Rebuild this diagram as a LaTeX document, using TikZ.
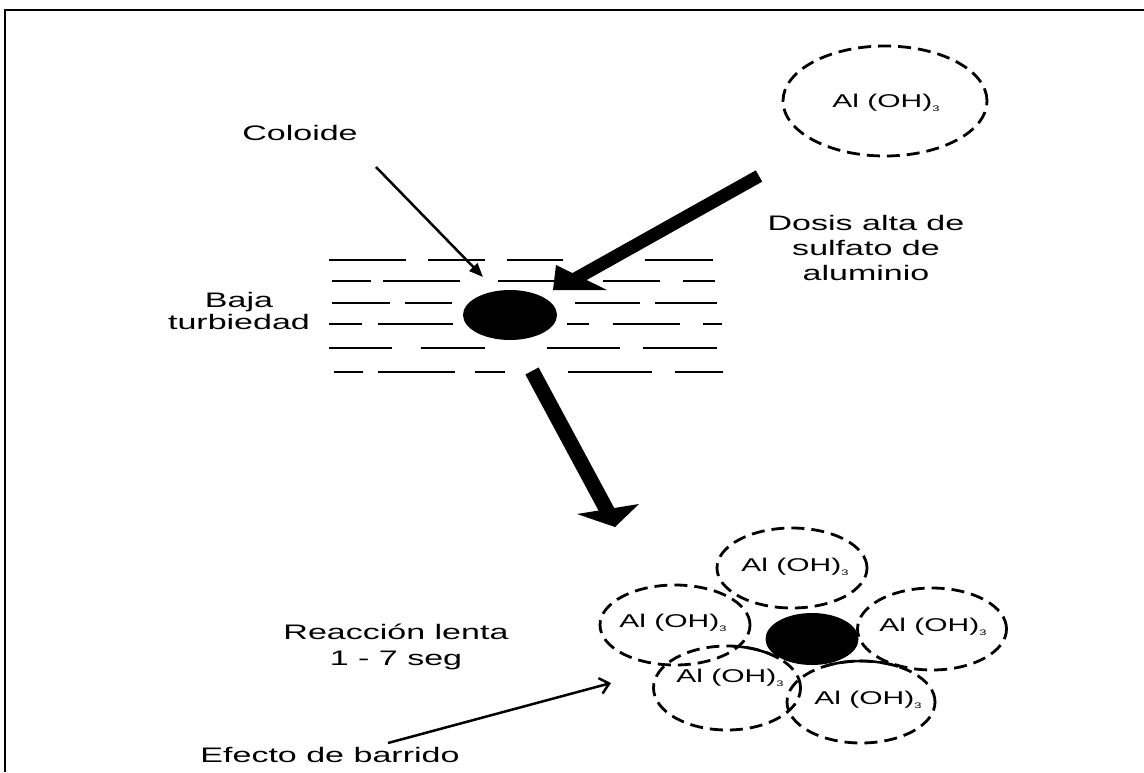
\documentclass[tikz,border=0pt]{standalone}
\usepackage{fontspec}
\setmainfont{Liberation Sans}
\usepackage{graphicx}
\usetikzlibrary{shapes.geometric,arrows.meta}
\newcommand\sx[1]{\scalebox{1.62}[1]{#1}}
\newcommand\alh{\sx{Al (OH)\raisebox{-0.45ex}{\fontsize{8}{8}\selectfont 3}}}
\begin{document}
\begin{tikzpicture}[x=1pt,y=-1pt,
  lbl/.style={inner sep=0pt, font=\fontsize{21}{25}\selectfont},
  alt/.style={inner sep=0pt, font=\fontsize{18.5}{20}\selectfont},
  cloud/.style={ellipse, draw, line width=2.8pt, dash pattern=on 13pt off 7pt, inner sep=0pt},
  ball/.style={ellipse, fill=black, inner sep=0pt},
  wline/.style={line width=2.6pt},
  thinarrow/.style={line width=2.5pt},
  solidarc/.style={line width=2.6pt}]
\useasboundingbox (0,0) rectangle (1144,772);
\fill[white] (0,0) rectangle (1144,772);
% frame
\draw[line width=2.5pt] (5,772) -- (5,10) -- (1144,10);

% water lines
\foreach \y/\segs in {260/{329/406,428/485,507/563,645/713},
                      281/{332/371,383/460,498/557,603/660,683/715},
                      303/{332/390,405/452,575/640,655/717},
                      324/{329/362,378/453,567/589,613/680,703/722},
                      348/{329/392,421/485,547/620,643/717},
                      372/{334/363,378/455,475/505,568/652,675/723}}{
  \foreach \a/\b in \segs { \draw[wline] (\a,\y) -- (\b,\y); }
}

% top colloid
\node[ball, minimum width=94pt, minimum height=50pt] (col) at (510,315) {};

% top-right Al(OH)3
\node[cloud, minimum width=204pt, minimum height=110pt] (alA) at (885,101) {};
\node[alt] (alAt) at (886,103) {\alh};

% labels
\node[lbl, anchor=base] (coloide) at (300,140) {\sx{Coloide}};
\node[lbl] (dosis) at (866,250) {\sx{\begin{tabular}{@{}c@{}}Dosis alta de\\sulfato de\\aluminio\end{tabular}}};
\node[lbl, font=\fontsize{21}{22.5}\selectfont] (baja) at (239,314) {\sx{\begin{tabular}{@{}c@{}}Baja\\turbiedad\end{tabular}}};
\node[lbl, font=\fontsize{21}{26}\selectfont] (reac) at (396,647) {\sx{\begin{tabular}{@{}c@{}}Reacci\'on lenta\\1 - 7 seg\end{tabular}}};
\node[lbl, anchor=base] (efecto) at (330,762) {\sx{Efecto de barrido}};

% Coloide arrow
\coordinate (cA) at (376,167);
\coordinate (cB) at (483,277);
\draw[thinarrow, -{Triangle[length=14pt,width=11pt]}] (cA) -- (cB);

% thick arrow from dose
\coordinate (dA) at (759,176);
\coordinate (dB) at (568,283);
\draw[line width=13pt] (dA) -- (dB);
\fill (553,290) -- (556,265) -- (607,290) -- cycle;

% thick arrow down
\coordinate (eA) at (532,371);
\coordinate (eB) at (610,516);
\draw[line width=15pt] (eA) -- (eB);
\fill (577,514) -- (639,504) -- (615,527) -- cycle;

% cluster
\node[cloud, minimum width=150pt, minimum height=80pt] (c1) at (792,568) {};
\node[cloud, minimum width=150pt, minimum height=80pt] (c2) at (675,625) {};
\node[cloud, minimum width=149pt, minimum height=82pt] (c3) at (932,629) {};
\node[cloud, minimum width=147pt, minimum height=84pt] (c4) at (727,688) {};
\node[cloud, minimum width=148pt, minimum height=82pt] (c5) at (861,702) {};
\draw[solidarc] (733.4,646.2) arc[start angle=-85, end angle=-45, x radius=73, y radius=42];
\draw[solidarc] (824,666.5) arc[start angle=-120, end angle=-60, x radius=74, y radius=41];
\node[ball, minimum width=93pt, minimum height=52pt] (col2) at (812,639) {};
\node[alt] (t1) at (795,567) {\alh};
\node[alt] (t2) at (673,623) {\alh};
\node[alt] (t3) at (933,627) {\alh};
\node[alt] (t4) at (730,678) {\alh};
\node[alt] (t5) at (868,700) {\alh};

% Efecto arrow
\coordinate (fA) at (388,743);
\coordinate (fB) at (611,683);
\draw[thinarrow, -{Straight Barb[length=9pt,width=16pt]}] (fA) -- (fB);
\end{tikzpicture}
\end{document}
